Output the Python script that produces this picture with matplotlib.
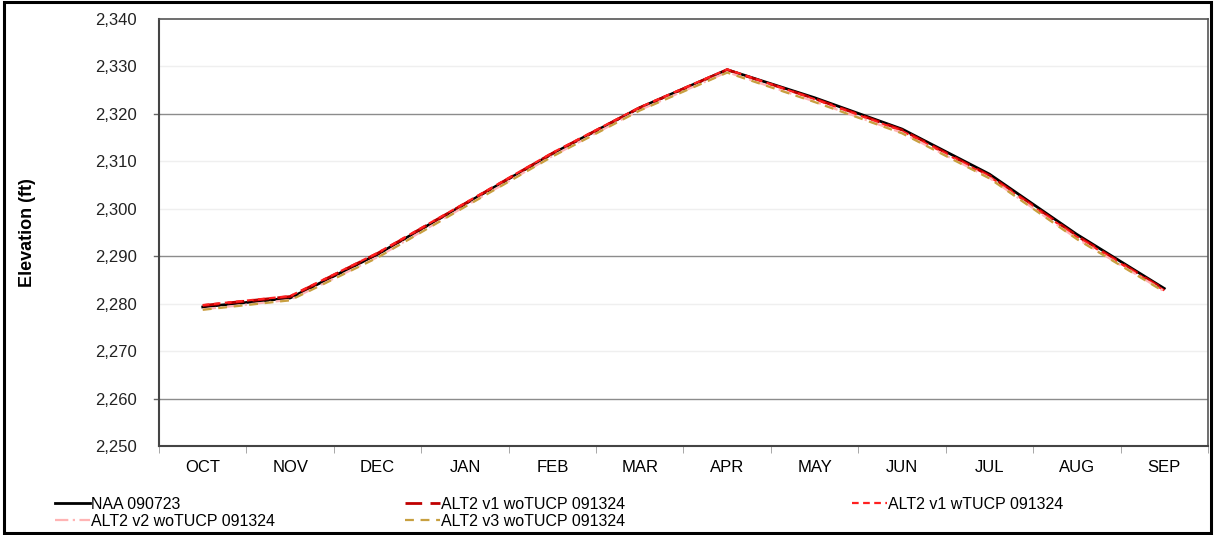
import matplotlib
matplotlib.use('Agg')
import matplotlib.pyplot as plt
from matplotlib.patches import Rectangle
from matplotlib.ticker import FuncFormatter

plt.rcParams['font.family'] = ['Liberation Sans', 'DejaVu Sans']

months = ['OCT', 'NOV', 'DEC', 'JAN', 'FEB', 'MAR', 'APR', 'MAY', 'JUN', 'JUL', 'AUG', 'SEP']

naa = [2279.3, 2281.2, 2290.4, 2301.0, 2311.6, 2321.3, 2329.3, 2323.4, 2316.8, 2307.3, 2294.6, 2283.2]
alt2_v1_wo = [2279.6, 2281.5, 2290.6, 2301.1, 2311.7, 2321.3, 2329.3, 2323.2, 2316.6, 2307.0, 2294.3, 2283.0]
alt2_v1_w = [2279.7, 2281.6, 2290.7, 2301.2, 2311.8, 2321.4, 2329.4, 2323.1, 2316.4, 2306.8, 2294.1, 2282.8]
alt2_v2_wo = [2278.8, 2280.8, 2289.8, 2300.5, 2311.1, 2320.8, 2328.8, 2322.6, 2316.0, 2306.5, 2293.7, 2282.6]
alt2_v3_wo = [2278.7, 2280.7, 2289.7, 2300.4, 2311.0, 2320.7, 2328.7, 2322.5, 2315.9, 2306.4, 2293.6, 2282.5]

labels = ['NAA 090723', 'ALT2 v1 woTUCP 091324', 'ALT2 v1 wTUCP 091324',
          'ALT2 v2 woTUCP 091324', 'ALT2 v3 woTUCP 091324']

fig = plt.figure(figsize=(12.15, 5.35), dpi=100)
ax = fig.add_axes([0.1309, 0.1664, 0.8633, 0.7981])

x = list(range(len(months)))
h1, = ax.plot(x, naa, color='black', lw=2.0, ls='-')
h2, = ax.plot(x, alt2_v1_wo, color='#c00000', lw=2.0, dashes=(6, 3))
h3, = ax.plot(x, alt2_v1_w, color='#ff2020', lw=1.6, dashes=(3, 2))
h4, = ax.plot(x, alt2_v2_wo, color='#ffb4b4', lw=1.6, dashes=(6, 2, 1, 2))
h5, = ax.plot(x, alt2_v3_wo, color='#c8a040', lw=1.6, dashes=(4, 3))

ax.set_xlim(-0.5, 11.5)
ax.set_ylim(2250, 2340)

# light grid every 10, darker every 30
for v in range(2260, 2340, 10):
    if (v - 2260) % 30 == 0:
        ax.axhline(v, color='#8c8c8c', lw=1.0, zorder=0)
    else:
        ax.axhline(v, color='#efefef', lw=1.0, zorder=0)

ax.set_yticks(range(2250, 2341, 10))
ax.yaxis.set_major_formatter(FuncFormatter(lambda v, p: '{:,.0f}'.format(v)))
ax.tick_params(axis='y', length=0, labelsize=12, pad=16, colors='#222222')
for v in (2260, 2290, 2320):
    ax.plot([-0.5 - 0.055, -0.5], [v, v], color='#666666', lw=1, clip_on=False)

ax.set_xticks(x)
ax.set_xticklabels(months)
ax.set_xticks([i - 0.5 for i in range(13)], minor=True)
ax.tick_params(axis='x', which='major', length=0, labelsize=12, pad=10)
ax.tick_params(axis='x', which='minor', length=5, color='#999999')

for s in ('top', 'right'):
    ax.spines[s].set_color('#555555')
    ax.spines[s].set_linewidth(1.2)
ax.spines['left'].set_color('#444444')
ax.spines['left'].set_linewidth(1.5)
ax.spines['bottom'].set_color('#444444')
ax.spines['bottom'].set_linewidth(1.5)

ax.set_ylabel('Elevation (ft)', fontsize=13, fontweight='bold')
ax.yaxis.set_label_coords(-0.117, 0.5)

leg_kw = dict(frameon=False, fontsize=11.5, handlelength=2.2, handletextpad=0.1,
              labelspacing=0.12, borderpad=0, borderaxespad=0, loc='upper left')
fig.legend([h1, h4], [labels[0], labels[3]], bbox_to_anchor=(0.045, 0.071), **leg_kw)
fig.legend([h2, h5], [labels[1], labels[4]], bbox_to_anchor=(0.333, 0.071), **leg_kw)
fig.legend([h3], [labels[2]], bbox_to_anchor=(0.701, 0.071), **leg_kw)

fig.patches.append(Rectangle((0.003, 0.003), 0.994, 0.994, transform=fig.transFigure,
                             fill=False, edgecolor='black', lw=2.2))

fig.savefig('out.png', dpi=100)
